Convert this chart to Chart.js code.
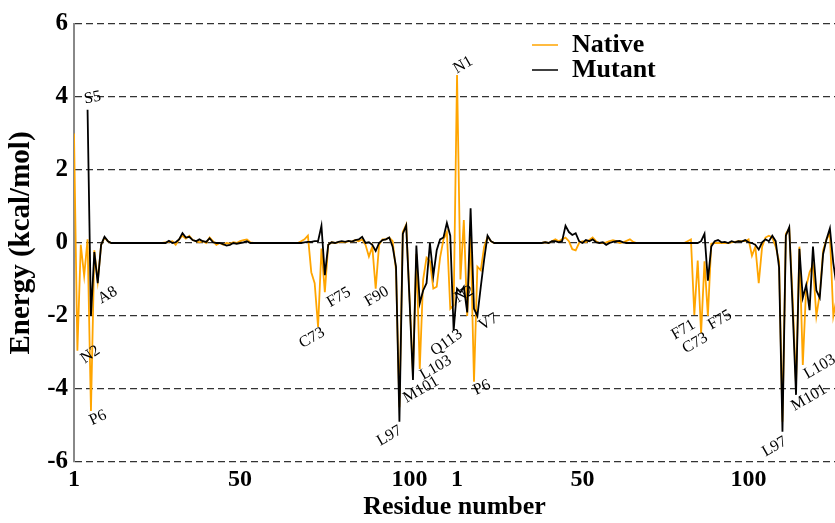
<!DOCTYPE html>
<html lang="en">
<head>
  <meta charset="UTF-8" />
  <title>Residue energy decomposition</title>
  <script src="https://cdn.jsdelivr.net/npm/chart.js@4/dist/chart.umd.min.js"></script>
  <style>
    body { margin: 0; background: #fff; }
    #energyChart { display: block; }
  </style>
</head>
<body>
  <canvas id="energyChart" width="835" height="523"></canvas>

  <script>
    // per-residue energies (kcal/mol), chain A then chain B (residues 1..113 each)
    const nativeA = [
      3.0, -2.95, -0.05, -0.9, 0.1, -4.6, -0.2, -1.05, -0.05, 0.15,
      0.05, 0, 0, 0, 0, 0, 0, 0, 0, 0,
      0, 0, 0, 0, 0, 0, 0, 0.02, 0.03, 0.05,
      -0.05, 0.1, 0.2, 0.12, 0.2, 0.08, 0.05, 0.02, 0.05, 0,
      0.15, 0.05, -0.05, 0, -0.05, 0, -0.02, 0.02, 0, 0.05,
      0.08, 0.1, 0.02, 0, 0, 0, 0, 0, 0, 0,
      0, 0, 0, 0, 0, 0, 0, 0.05, 0.1, 0.2,
      -0.8, -1.1, -2.3, -0.15, -1.35, -0.05, 0.02, 0, 0.02, 0.03,
      0.02, 0.05, 0.04, 0.08, 0.05, 0.1, -0.05, -0.37, -0.1, -1.25,
      -0.05, 0.1, 0.1, 0.15, 0.05, -0.75, -4.5, 0.3, 0.5, -1.5,
      -3.6, -0.3, -3.45, -1.0, -0.4, -0.5, -1.25, -1.2, -0.4, 0.1,
      0.3, -1.8, -1.7
    ];
    const mutantA = [
      null, null, null, null, 3.65, -2.0, -0.25, -1.1, -0.05, 0.17,
      0.05, 0, 0, 0, 0, 0, 0, 0, 0, 0,
      0, 0, 0, 0, 0, 0, 0, 0, 0.06, 0,
      0.02, 0.1, 0.27, 0.15, 0.17, 0.08, 0.05, 0.1, 0.05, 0.03,
      0.13, 0.02, 0, 0, -0.03, -0.07, -0.05, 0, -0.02, 0,
      0.02, 0.05, 0, 0, 0, 0, 0, 0, 0, 0,
      0, 0, 0, 0, 0, 0, 0, 0, 0.02, 0.03,
      0.03, 0.05, 0.05, 0.47, -0.88, -0.05, 0.02, 0, 0.03, 0.05,
      0.03, 0.06, 0.04, 0.08, 0.1, 0.17, 0, 0.02, -0.05, -0.22,
      0, 0.08, 0.1, 0.15, -0.1, -0.65, -4.9, 0.25, 0.48, -1.6,
      -3.75, -0.07, -1.65, -1.3, -1.1, 0, -0.9, -0.2, 0.1, 0.15,
      0.55, 0.2, -2.4
    ];
    const nativeB = [
      4.6, -1.0, 0.63, -2.0, 0.17, -3.8, -0.65, -0.75, -0.1, 0.17,
      0.05, 0, 0, 0, 0, 0, 0, 0, 0, 0,
      0, 0, 0, 0, 0, 0, 0.02, 0, 0.05, 0.1,
      0.05, 0.1, 0.15, 0.05, -0.17, -0.2, 0, 0.05, 0.02, 0.08,
      0.15, 0.05, 0, 0, 0.02, 0.05, 0.08, 0.05, 0, 0.02,
      0.06, 0.1, 0.03, 0, 0, 0, 0, 0, 0, 0,
      0, 0, 0, 0, 0, 0, 0, 0, 0.05, 0.1,
      -1.97, -0.48, -2.47, -0.5, -2.0, -0.02, 0, 0, 0, 0,
      0, 0.02, 0.03, 0.05, 0.05, 0.05, 0.1, -0.35, -0.1, -1.1,
      -0.1, 0.15, 0.2, 0.15, -0.1, -0.5, -4.9, 0.25, 0.4, -1.5,
      -3.9, -0.1, -3.34, -1.2, -0.8, -0.6, -2.0, -1.4, -0.2, 0.1,
      0.25, -2.0, -1.5
    ];
    const mutantB = [
      -1.25, -1.35, -1.2, -1.9, 0.95, -1.8, -2.0, -1.2, -0.45, 0.2,
      0.05, 0, 0, 0, 0, 0, 0, 0, 0, 0,
      0, 0, 0, 0, 0, 0, 0.02, 0, 0.05, 0.05,
      0.02, 0.05, 0.47, 0.3, 0.22, 0.27, 0.05, 0, 0.08, 0.05,
      0.1, 0.02, 0, 0.02, -0.05, 0, 0.03, 0.05, 0.06, 0.02,
      0, 0, 0, 0, 0, 0, 0, 0, 0, 0,
      0, 0, 0, 0, 0, 0, 0, 0, 0, 0,
      0, 0, 0.05, 0.25, -1.03, -0.1, 0.05, 0.08, 0.02, 0.03,
      0, 0.05, 0.02, 0.05, 0.04, 0.08, 0.02, 0, -0.05, -0.18,
      0.02, 0.1, 0.05, 0.2, 0.05, -0.67, -5.17, 0.2, 0.43, -1.8,
      -4.16, -0.16, -1.5, -1.15, -1.84, -0.1, -1.3, -1.5, -0.3, 0.1,
      0.4, -0.55, -1.2
    ];

    // x ticks sit on the running index, labelled with the residue number of each chain
    const tickPositions = [1, 50, 100, 114, 151, 200];
    const tickLabels = ['1', '50', '100', '1', '50', '100'];

    // labelled residues: name, running index, which series it points at
    const markNames = ['S5', 'N2', 'P6', 'A8', 'C73', 'F75', 'F90', 'L97', 'M101', 'L103', 'Q113',
                       'N1', 'N2', 'P6', 'V7', 'F71', 'C73', 'F75', 'L97', 'M101', 'L103'];
    const markIndex = [5, 2, 6, 8, 73, 75, 90, 97, 101, 103, 113,
                       114, 115, 119, 120, 184, 186, 188, 210, 214, 216];
    const markSeries = ['mutant', 'native', 'native', 'mutant', 'native', 'native', 'native', 'mutant', 'mutant', 'native', 'mutant',
                        'native', 'mutant', 'native', 'mutant', 'native', 'native', 'native', 'mutant', 'mutant', 'native'];

    // label placement relative to its point: dx, dy (px), angle (deg)
    const markPlacement = [
      [5, -12, -10], [13, 4, -35], [7, 7, -25], [10, 12, -30], [-6, 11, -30], [14, 5, -30], [1, 8, -30],
      [-10, 14, -30], [8, 10, -30], [16, -1, -30], [-7, 12, -35],
      [6, -10, -30], [4, 2, -30], [8, 6, -25], [11, 6, -30], [-11, 15, -30], [-6, 10, -30], [12, 4, -30],
      [-8, 15, -30], [13, 3, -30], [17, 2, -30]
    ];

    const SERIF = "'Liberation Serif', 'Times New Roman', serif";
    const nativeAll = nativeA.concat(nativeB);
    const mutantAll = mutantA.concat(mutantB);
    const toPoints = arr => arr.map((v, i) => ({ x: i + 1, y: v }));

    const markLabels = {
      id: 'markLabels',
      afterDatasetsDraw(chart) {
        const { ctx, scales: { x, y } } = chart;
        const series = { native: nativeAll, mutant: mutantAll };
        ctx.save();
        ctx.font = '16px ' + SERIF;
        ctx.fillStyle = '#000';
        ctx.textAlign = 'center';
        ctx.textBaseline = 'middle';
        markNames.forEach((name, k) => {
          const idx = markIndex[k];
          const px = x.getPixelForValue(idx);
          const py = y.getPixelForValue(series[markSeries[k]][idx - 1]);
          const [dx, dy, ang] = markPlacement[k];
          ctx.save();
          ctx.translate(px + dx, py + dy);
          ctx.rotate(ang * Math.PI / 180);
          ctx.fillText(name, 0, 0);
          ctx.restore();
        });
        ctx.restore();
      }
    };

    const lineLegend = {
      id: 'lineLegend',
      afterDraw(chart) {
        const ctx = chart.ctx;
        ctx.save();
        ctx.font = 'bold 26px ' + SERIF;
        ctx.textBaseline = 'middle';
        ctx.fillStyle = '#000';
        chart.data.datasets.forEach((ds, i) => {
          const yy = 45 + i * 25;
          ctx.strokeStyle = ds.borderColor;
          ctx.lineWidth = 1.5;
          ctx.beginPath();
          ctx.moveTo(532, yy);
          ctx.lineTo(558, yy);
          ctx.stroke();
          ctx.fillText(ds.label, 572, yy);
        });
        ctx.restore();
      }
    };

    new Chart(document.getElementById('energyChart'), {
      type: 'line',
      data: {
        datasets: [
          {
            label: 'Native',
            data: toPoints(nativeAll),
            borderColor: '#FFA500',
            borderWidth: 1.8,
            pointRadius: 0,
            tension: 0,
            order: 2
          },
          {
            label: 'Mutant',
            data: toPoints(mutantAll),
            borderColor: '#000000',
            borderWidth: 1.8,
            pointRadius: 0,
            tension: 0,
            order: 1
          }
        ]
      },
      options: {
        responsive: false,
        animation: false,
        layout: { padding: { top: 24, right: 0, left: 0, bottom: 0 } },
        plugins: { legend: { display: false }, tooltip: { enabled: false } },
        scales: {
          x: {
            type: 'linear',
            min: 1,
            max: 225.5,
            afterBuildTicks: s => { s.ticks = tickPositions.map(v => ({ value: v })); },
            afterFit: s => { s.height = 61; },
            grid: { display: false, drawTicks: false },
            border: { display: false },
            ticks: {
              autoSkip: false,
              maxRotation: 0,
              padding: 3,
              color: '#000',
              font: { family: SERIF, size: 24, weight: 'bold' },
              callback: (v, i) => tickLabels[i]
            },
            title: {
              display: true,
              text: 'Residue number',
              color: '#000',
              padding: { top: 0, bottom: 0 },
              font: { family: SERIF, size: 26, weight: 'bold' }
            }
          },
          y: {
            min: -6,
            max: 6,
            afterFit: s => { s.width = 74; },
            grid: { drawTicks: false, color: '#333', lineWidth: 1.3 },
            border: { display: true, color: '#888', width: 2, dash: [7, 4] },
            ticks: {
              stepSize: 2,
              padding: 6,
              color: '#000',
              font: { family: SERIF, size: 25, weight: 'bold' }
            },
            title: {
              display: true,
              text: 'Energy (kcal/mol)',
              color: '#000',
              padding: { top: 4, bottom: 0 },
              font: { family: SERIF, size: 29, weight: 'bold' }
            }
          }
        }
      },
      plugins: [markLabels, lineLegend]
    });
  </script>
</body>
</html>
